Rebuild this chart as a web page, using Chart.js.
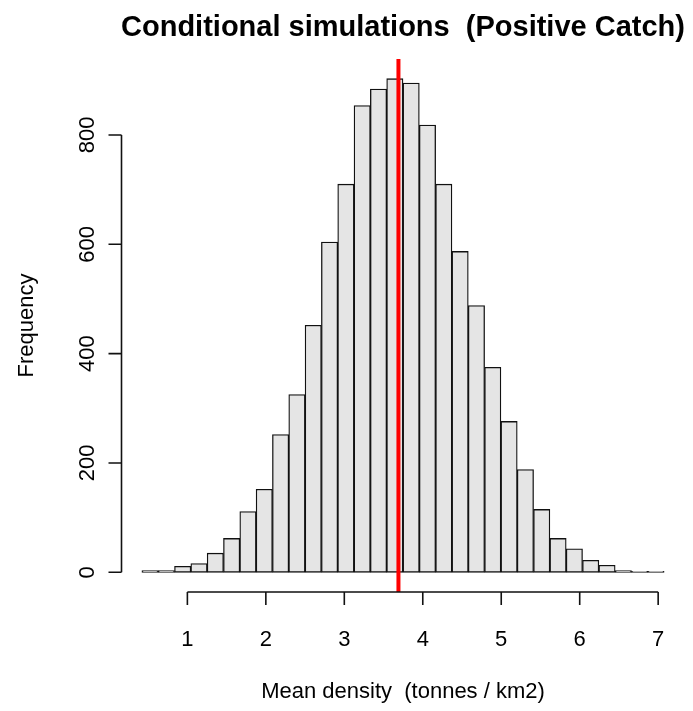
<!DOCTYPE html>
<html>
<head>
<meta charset="utf-8">
<title>Conditional simulations (Positive Catch)</title>
<script src="https://cdn.jsdelivr.net/npm/chart.js@4/dist/chart.umd.min.js"></script>
<style>
  html, body { margin: 0; padding: 0; background: #fff; }
  #wrap { width: 693px; height: 711px; }
</style>
</head>
<body>
<div id="wrap"><canvas id="histChart" width="693" height="711"></canvas></div>
<script>
// histogram bins (R hist), counts
const binStart = 0.42;
const binWidth = 0.208;
const binCounts = [3, 3, 11, 16, 35, 62, 111, 152, 252, 325, 452, 604, 710, 854, 884, 903,
                   895, 818, 710, 587, 488, 375, 276, 188, 115, 62, 43, 22, 13, 3, 2, 2];
const meanDensity = 3.69;

const xTicks = [1, 2, 3, 4, 5, 6, 7];
const yTicks = [0, 200, 400, 600, 800];
const xRange = [0.154, 7.342];
const yRange = [-36, 939];

const titleText = "Conditional simulations  (Positive Catch)";
const xLabel = "Mean density  (tonnes / km2)";
const yLabel = "Frequency";

const FONT = "'Liberation Sans', Arial, Helvetica, sans-serif";

const barData = binCounts.map((c, i) => ({ x: binStart + binWidth * (i + 0.5), y: c }));

// R style axes drawn from the chart scales
const rAxes = {
  id: "rAxes",
  afterDraw(chart) {
    const ctx = chart.ctx;
    const xs = chart.scales.x, ys = chart.scales.y;
    const area = chart.chartArea;
    const tick = 13;
    ctx.save();
    ctx.strokeStyle = "#111";
    ctx.fillStyle = "#000";
    ctx.lineWidth = 1.6;

    // y axis
    const ax = Math.round(area.left) + 0.5;
    ctx.beginPath();
    ctx.moveTo(ax, ys.getPixelForValue(yTicks[0]));
    ctx.lineTo(ax, ys.getPixelForValue(yTicks[yTicks.length - 1]));
    yTicks.forEach(v => {
      const p = ys.getPixelForValue(v);
      ctx.moveTo(ax, p);
      ctx.lineTo(ax - tick, p);
    });
    ctx.stroke();
    ctx.font = "22px " + FONT;
    ctx.textAlign = "center";
    ctx.textBaseline = "middle";
    yTicks.forEach(v => {
      ctx.save();
      ctx.translate(88, ys.getPixelForValue(v));
      ctx.rotate(-Math.PI / 2);
      ctx.fillText(String(v), 0, 0);
      ctx.restore();
    });

    // x axis
    const ay = area.bottom;
    ctx.beginPath();
    ctx.moveTo(xs.getPixelForValue(xTicks[0]), ay);
    ctx.lineTo(xs.getPixelForValue(xTicks[xTicks.length - 1]), ay);
    xTicks.forEach(v => {
      const p = xs.getPixelForValue(v);
      ctx.moveTo(p, ay);
      ctx.lineTo(p, ay + tick);
    });
    ctx.stroke();
    xTicks.forEach(v => {
      ctx.fillText(String(v), xs.getPixelForValue(v), 640);
    });

    // labels
    const cx = (area.left + area.right) / 2;
    const cy = (area.top + area.bottom) / 2;
    ctx.fillText(xLabel, cx, 692);
    ctx.save();
    ctx.translate(27, cy);
    ctx.rotate(-Math.PI / 2);
    ctx.fillText(yLabel, 0, 0);
    ctx.restore();

    ctx.font = "bold 29px " + FONT;
    ctx.fillText(titleText, cx, 28);
    ctx.restore();
  }
};

new Chart(document.getElementById("histChart"), {
  type: "bar",
  data: {
    datasets: [
      {
        type: "bar",
        data: barData,
        backgroundColor: "#e5e5e5",
        borderColor: "#111",
        borderWidth: 1.3,
        borderSkipped: false,
        barPercentage: 1,
        categoryPercentage: 1,
        order: 2
      },
      {
        type: "line",
        data: [{ x: meanDensity, y: yRange[0] }, { x: meanDensity, y: yRange[1] }],
        borderColor: "#ff0000",
        borderWidth: 4,
        pointRadius: 0,
        fill: false,
        order: 1
      }
    ]
  },
  options: {
    responsive: false,
    animation: false,
    devicePixelRatio: 1,
    layout: { padding: { left: 121, right: 8, top: 59, bottom: 119 } },
    plugins: { legend: { display: false }, title: { display: false }, tooltip: { enabled: false } },
    scales: {
      x: { type: "linear", min: xRange[0], max: xRange[1], offset: false, display: false },
      y: { type: "linear", min: yRange[0], max: yRange[1], display: false }
    }
  },
  plugins: [rAxes]
});
</script>
</body>
</html>
